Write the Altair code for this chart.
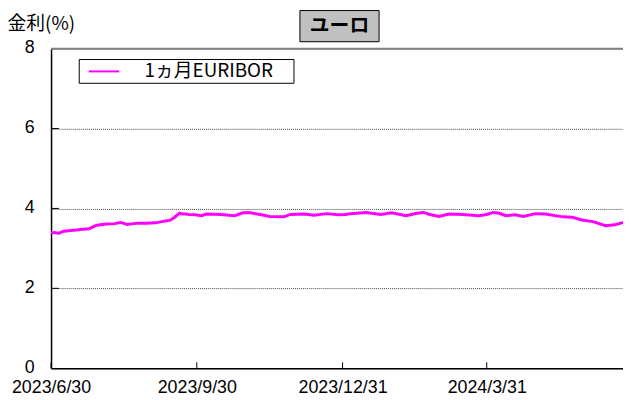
import altair as alt
import pandas as pd

# ---- data ----
DATES = ["2023-06-30","2023-07-03","2023-07-05","2023-07-08","2023-07-11","2023-07-16","2023-07-20","2023-07-24","2023-07-28","2023-07-31",
         "2023-08-04","2023-08-09","2023-08-13","2023-08-17","2023-08-21","2023-08-24","2023-08-29","2023-09-04","2023-09-08","2023-09-11",
         "2023-09-13","2023-09-16","2023-09-19","2023-09-21","2023-09-23","2023-09-25","2023-09-29","2023-10-03","2023-10-06","2023-10-15",
         "2023-10-24","2023-10-29","2023-11-03","2023-11-09","2023-11-15","2023-11-24","2023-11-28","2023-12-07","2023-12-13","2023-12-21",
         "2023-12-28","2024-01-02","2024-01-05","2024-01-15","2024-01-24","2024-01-31","2024-02-09","2024-02-16","2024-02-20","2024-02-24",
         "2024-03-01","2024-03-07","2024-03-16","2024-03-26","2024-03-31","2024-04-04","2024-04-08","2024-04-12","2024-04-18","2024-04-23",
         "2024-05-01","2024-05-07","2024-05-18","2024-05-24","2024-05-30","2024-06-06","2024-06-14","2024-06-20","2024-06-25"]
RATES = [3.40,3.39,3.38,3.43,3.44,3.46,3.48,3.49,3.57,3.59,
         3.61,3.62,3.65,3.60,3.62,3.63,3.63,3.64,3.67,3.69,
         3.70,3.78,3.88,3.86,3.86,3.85,3.84,3.82,3.86,3.85,
         3.82,3.89,3.89,3.85,3.80,3.79,3.85,3.86,3.83,3.87,
         3.84,3.85,3.87,3.90,3.85,3.89,3.82,3.88,3.90,3.85,
         3.80,3.86,3.85,3.82,3.85,3.90,3.88,3.82,3.84,3.80,
         3.87,3.86,3.79,3.78,3.71,3.67,3.57,3.59,3.65]
SERIES_NAME = "1ヵ月EURIBOR"
Y_TITLE = "金利(%)"
PANEL_TITLE = "ユーロ"
X_TICKS = ["2023-06-30", "2023-09-30", "2023-12-31", "2024-03-31"]
X_DOMAIN = ["2023-06-30", "2024-06-25"]
Y_TICKS = [0, 2, 4, 6, 8]
Y_INNER_TICKS = [2, 4, 6]

W, H = 578, 323
FONT = "Noto Sans CJK JP"
NUM_FONT = "Liberation Sans"
MAGENTA = "#FF00FF"


def dt(s):
    t = pd.Timestamp(s)
    return alt.DateTime(year=t.year, month=t.month, date=t.day, utc=True)


df = pd.DataFrame({"date": DATES, "rate": RATES})
xt_df = pd.DataFrame({"date": X_TICKS})
yt_df = pd.DataFrame({"v": Y_INNER_TICKS})
one = pd.DataFrame({"a": [0]})

x_enc = alt.X(
    "date:T",
    scale=alt.Scale(type="utc", domain=[dt(d) for d in X_DOMAIN]),
    axis=alt.Axis(
        values=[dt(d) for d in X_TICKS],
        labelExpr="utcFormat(datum.value, '%Y/%-m/%-d')",
        title=None, grid=False, ticks=False, labelFlush=False,
        labelFont=NUM_FONT, labelFontSize=18, labelPadding=11, labelColor="black",
        domainColor="black", domainWidth=1.5, labelOverlap=False,
    ),
)
y_enc = alt.Y(
    "rate:Q",
    scale=alt.Scale(domain=[0, 8], nice=False),
    axis=alt.Axis(
        values=Y_TICKS, title=None, ticks=False, labelFont=NUM_FONT, labelFontSize=18,
        labelPadding=17, labelOffset=-1, labelColor="black", domainColor="black",
        domainWidth=1.5, grid=True, gridColor="#444444", gridDash=[1, 1], gridWidth=1,
    ),
)

line = alt.Chart(df).mark_line(color=MAGENTA, strokeWidth=3).encode(x=x_enc, y=y_enc)

xticks = alt.Chart(xt_df).mark_rule(color="black", strokeWidth=1).encode(
    x="date:T", y=alt.value(H - 6), y2=alt.value(H)
)
yticks = alt.Chart(yt_df).mark_rule(color="black", strokeWidth=1).encode(
    y="v:Q", x=alt.value(0), x2=alt.value(8)
)
top_rule = alt.Chart(one).mark_rule(color="#808080", strokeWidth=2).encode(
    y=alt.datum(8), x=alt.value(0), x2=alt.value(W)
)

# legend box
leg_box = alt.Chart(one).mark_rect(fill="white", stroke="black", strokeWidth=1).encode(
    x=alt.value(28.5), x2=alt.value(245.5), y=alt.value(11), y2=alt.value(35)
)
leg_sym = alt.Chart(one).mark_rule(color=MAGENTA, strokeWidth=2).encode(
    x=alt.value(38), x2=alt.value(69), y=alt.value(23)
)
leg_txt = alt.Chart(one).mark_text(
    text=SERIES_NAME, align="left", baseline="middle", fontSize=19, font=FONT, color="black"
).encode(x=alt.value(94.5), y=alt.value(23))

# titles
ytitle = alt.Chart(one).mark_text(
    text=Y_TITLE, align="left", baseline="alphabetic", fontSize=19, font=FONT, color="black"
).encode(x=alt.value(-44), y=alt.value(-19))
panel_box = alt.Chart(one).mark_rect(fill="#C0C0C0", stroke="black", strokeWidth=1).encode(
    x=alt.value(251.5), x2=alt.value(331.5), y=alt.value(-38.5), y2=alt.value(-7)
)
panel_txt = alt.Chart(one).mark_text(
    text=PANEL_TITLE, align="center", baseline="middle", fontSize=20, font=FONT,
    fontWeight="bold", color="black"
).encode(x=alt.value(291.5), y=alt.value(-22.5))

chart = alt.layer(
    line, xticks, yticks, top_rule, leg_box, leg_sym, leg_txt, ytitle, panel_box, panel_txt
).properties(
    width=W, height=H,
    autosize=alt.AutoSizeParams(type="none"),
    padding={"left": 43.5, "top": 39, "right": 0, "bottom": 30},
).configure(font=FONT).configure_view(stroke=None)

chart.save("out.html", embed_options={"renderer": "svg", "actions": False})
